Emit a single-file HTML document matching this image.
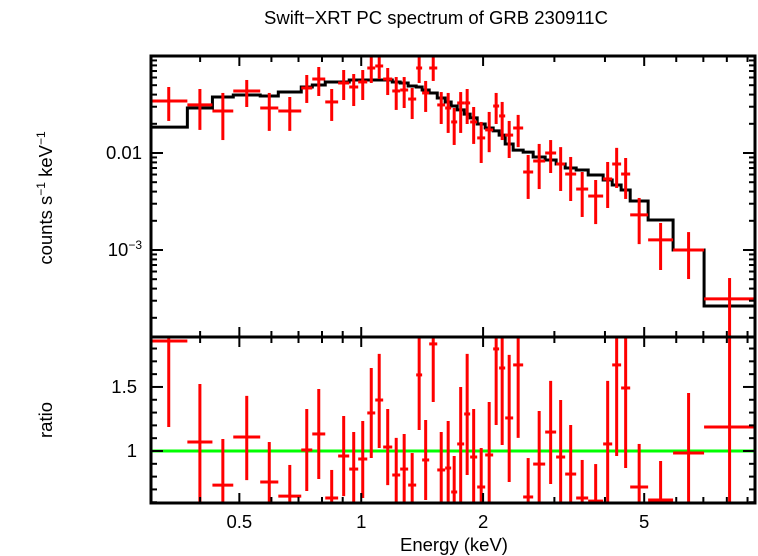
<!DOCTYPE html>
<html><head><meta charset="utf-8">
<style>
html,body{margin:0;padding:0;background:#fff;}
svg{display:block;font-family:"Liberation Sans",sans-serif;}
</style></head>
<body>
<svg id="chart" width="758" height="556" viewBox="0 0 758 556" xmlns="http://www.w3.org/2000/svg">
<text x="436" y="24" font-size="18.5" text-anchor="middle">Swift−XRT PC spectrum of GRB 230911C</text>
<g id="topPanel"></g>
<g id="botPanel"></g>
<g id="frame"></g>
<text transform="translate(52,198) rotate(-90)" font-size="18.5" text-anchor="middle">counts s<tspan dy="-7" font-size="12">−1</tspan><tspan dy="7"> keV</tspan><tspan dy="-7" font-size="12">−1</tspan></text>
<text transform="translate(52,420) rotate(-90)" font-size="18.5" text-anchor="middle">ratio</text>
<text x="454" y="551" font-size="18.5" text-anchor="middle">Energy (keV)</text>
</svg>
<script>
const binEdges=[0.301,0.372,0.429,0.483,0.563,0.624,0.711,0.757,0.815,0.877,0.934,0.983,1.035,1.083,1.133,1.193,1.248,1.306,1.367,1.414,1.472,1.541,1.612,1.668,1.726,1.796,1.858,1.934,2.024,2.118,2.191,2.268,2.373,2.512,2.659,2.847,3.030,3.190,3.396,3.636,3.959,4.168,4.385,4.617,5.113,5.893,7.029,9.394];
const countsVal=[0.0344,0.0313,0.0271,0.0436,0.0291,0.0271,0.0468,0.0579,0.0336,0.0527,0.0479,0.0540,0.0752,0.0789,0.0579,0.0436,0.0446,0.0360,0.0752,0.0416,0.0752,0.0313,0.0291,0.0209,0.0328,0.0328,0.0209,0.0143,0.0173,0.0305,0.0241,0.0153,0.0181,0.00637,0.00827,0.0100,0.0077,0.00607,0.00425,0.0036,0.0054,0.0077,0.00607,0.0023,0.00127,0.001,0.000313];
const countsHi=[0.0479,0.0457,0.0416,0.0566,0.0416,0.0378,0.0637,0.0770,0.0457,0.0717,0.0652,0.0717,0.0977,0.1024,0.0752,0.0607,0.0607,0.0468,0.0977,0.0553,0.0977,0.0425,0.0416,0.0291,0.0425,0.0457,0.0298,0.0209,0.0265,0.0416,0.0336,0.0214,0.0247,0.00954,0.0124,0.0136,0.0115,0.0091,0.00637,0.00527,0.00808,0.0113,0.00888,0.00344,0.0019,0.00153,0.000514];
const countsLo=[0.0214,0.0173,0.0136,0.0298,0.0169,0.0169,0.0328,0.0387,0.0214,0.0352,0.0305,0.0352,0.0527,0.0579,0.0396,0.0278,0.0291,0.0224,0.0527,0.0265,0.0553,0.0199,0.0161,0.0121,0.0161,0.0199,0.0124,0.00789,0.0102,0.0199,0.0136,0.00888,0.0115,0.00336,0.00425,0.00622,0.00406,0.0032,0.00219,0.00185,0.00271,0.00436,0.00336,0.00115,0.000622,0.000502,0.000127];
const modelVal=[0.0185,0.0291,0.0378,0.0396,0.0387,0.0425,0.0479,0.0502,0.0540,0.0540,0.0566,0.0566,0.0566,0.0566,0.0566,0.0540,0.0527,0.0490,0.0479,0.0446,0.0416,0.0369,0.0336,0.0305,0.0278,0.0252,0.0230,0.0199,0.0181,0.0169,0.0153,0.0124,0.0107,0.0102,0.0091,0.00847,0.0077,0.0070,0.00668,0.00593,0.00527,0.00468,0.00416,0.0032,0.00204,0.001,0.000265];
const ratioVal=[1.859,1.070,0.734,1.109,0.758,0.648,1.008,1.133,0.633,0.961,0.859,0.9375,1.297,1.398,1.031,0.8125,0.859,0.734,1.594,0.930,1.836,0.852,0.867,0.680,1.055,1.289,0.953,0.719,0.969,1.797,1.648,1.258,1.672,0.641,0.898,1.148,0.953,0.820,0.633,0.609,1.055,1.672,1.492,0.719,0.617,0.984,1.1875];
const ratioHi=[2.2,1.523,1.094,1.430,1.070,0.891,1.328,1.484,0.852,1.273,1.148,1.234,1.648,1.758,1.328,1.102,1.133,0.984,2.2,1.242,2.2,1.148,1.234,0.961,1.5,1.758,1.328,1.023,1.383,2.2,2.2,1.75,2.2,0.945,1.3125,1.547,1.398,1.203,0.930,0.898,1.547,2.2,2.2,1.055,0.922,1.453,2.2];
const ratioLo=[1.1875,0.602,0.3,0.773,0.3,0.3,0.6875,0.781,0.3,0.648,0.3,0.633,0.945,1.023,0.734,0.3,0.3,0.3,1.164,0.617,1.383,0.3,0.3,0.3,0.602,0.8125,0.3,0.3,0.3,1.203,1.047,0.758,1.102,0.3,0.3,0.742,0.3,0.3,0.3,0.3,0.3,0.961,0.867,0.3,0.3,0.3,0.3];
const xTickLabels=["0.5","1","2","5"];
const xTickValues=[0.5,1,2,5];
const ratioTickLabels=["1","1.5"];
const ratioTickValues=[1,1.5];

const NS="http://www.w3.org/2000/svg";
const L=151,R=755,T1=56,B1=337,T2=337,B2=503;
const xMin=0.3025,xMax=9.39;
const yMin=1.268e-4,yMax=0.1;
const rMin=0.594,rMax=1.89;
const X=e=>L+(R-L)*(Math.log10(e)-Math.log10(xMin))/(Math.log10(xMax)-Math.log10(xMin));
const Y=v=>B1-(B1-T1)*(Math.log10(v)-Math.log10(yMin))/(Math.log10(yMax)-Math.log10(yMin));
const YR=r=>B2-(B2-T2)*(r-rMin)/(rMax-rMin);
const cl=(v,a,b)=>Math.max(a,Math.min(b,v));
function mk(tag,attrs,parent){const el=document.createElementNS(NS,tag);for(const k in attrs)el.setAttribute(k,attrs[k]);parent.appendChild(el);return el;}
const topG=document.getElementById('topPanel'),botG=document.getElementById('botPanel'),frame=document.getElementById('frame');

let d="";
for(let i=0;i<modelVal.length;i++){const x0=X(binEdges[i]),x1=X(binEdges[i+1]),y=Y(modelVal[i]);d+=(i?"L":"M")+x0+","+y+"L"+x1+","+y;}
const mp=mk('path',{d:d,fill:'none',stroke:'#000','stroke-width':3},topG);



for(let i=0;i<countsVal.length;i++){
  const x0=X(binEdges[i]),x1=X(binEdges[i+1]),xc=X(Math.sqrt(binEdges[i]*binEdges[i+1]));
  const g=mk('g',{stroke:'#f00','stroke-width':3},topG);
  
  
  mk('line',{x1:x0,x2:x1,y1:Y(countsVal[i]),y2:Y(countsVal[i])},g);
  mk('line',{x1:xc,x2:xc,y1:cl(Y(countsHi[i]),T1,B1),y2:cl(Y(countsLo[i]),T1,B1)},g);
}
const gl=mk('line',{x1:L,x2:R,y1:YR(1),y2:YR(1),stroke:'#0f0','stroke-width':3},botG);


for(let i=0;i<ratioVal.length;i++){
  const x0=X(binEdges[i]),x1=X(binEdges[i+1]),xc=X(Math.sqrt(binEdges[i]*binEdges[i+1]));
  const g=mk('g',{stroke:'#f00','stroke-width':3},botG);
  
  
  const yc=YR(ratioVal[i]);
  if(yc>=T2&&yc<=B2) mk('line',{x1:x0,x2:x1,y1:yc,y2:yc},g);
  mk('line',{x1:xc,x2:xc,y1:cl(YR(ratioHi[i]),T2,B2),y2:cl(YR(ratioLo[i]),T2,B2)},g);
}
[[T1,B1],[T2,B2]].forEach(([t,b])=>{const r=mk('rect',{x:L,y:t,width:R-L,height:b-t,fill:'none',stroke:'#000','stroke-width':3},frame);});
const tk=mk('g',{stroke:'#000','stroke-width':2},frame);


for(let dec=0.1;dec<=1.01;dec*=10){for(let m=1;m<10;m++){const e=m*dec;if(e<xMin||e>xMax)continue;const x=X(e);const len=(m===1||m===5||m===2)?10:6;
  [T1,T2].forEach(t=>mk('line',{x1:x,x2:x,y1:t,y2:t+len},tk));[B1,B2].forEach(b=>mk('line',{x1:x,x2:x,y1:b,y2:b-len},tk));}}
for(let p=-4;p<=-1;p++){for(let m=1;m<10;m++){const v=m*Math.pow(10,p);if(v<yMin||v>yMax)continue;const y=Y(v);const len=m===1?12:6;
  mk('line',{x1:L,x2:L+len,y1:y,y2:y},tk);mk('line',{x1:R,x2:R-len,y1:y,y2:y},tk);}}
for(let r=0.6;r<=1.85;r+=0.1){const y=YR(r);const major=Math.abs(r-1)<0.01||Math.abs(r-1.5)<0.01;const len=major?12:6;
  mk('line',{x1:L,x2:L+len,y1:y,y2:y},tk);mk('line',{x1:R,x2:R-len,y1:y,y2:y},tk);}
xTickLabels.forEach((s,i)=>{const t=mk('text',{x:X(xTickValues[i]),y:528,'font-size':18.5,'text-anchor':'middle'},frame);t.textContent=s;});
ratioTickLabels.forEach((s,i)=>{const t=mk('text',{x:137,y:YR(ratioTickValues[i])+6,'font-size':18.5,'text-anchor':'end'},frame);t.textContent=s;});
const t1=mk('text',{x:142,y:Y(0.01)+6,'font-size':18.5,'text-anchor':'end'},frame);t1.textContent="0.01";


const t2=mk('text',{x:142,y:Y(0.001)+6,'font-size':18.5,'text-anchor':'end'},frame);


t2.innerHTML='10<tspan dy="-7" font-size="12">−3</tspan>';
</script>
</body></html>
